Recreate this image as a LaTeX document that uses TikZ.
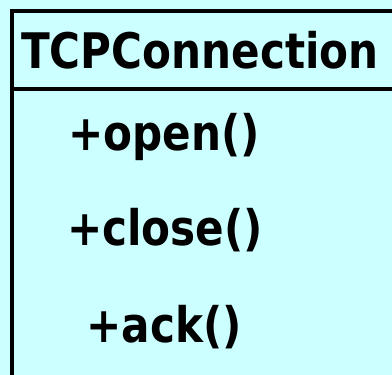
\documentclass[tikz,border=0pt]{standalone}
\usepackage{fontspec}
\newfontfamily\umlfont{DejaVu Sans}[FakeStretch=0.86]
\definecolor{classfill}{RGB}{204,255,255}

\begin{document}
\begin{tikzpicture}[
  x=1pt, y=-1pt,
  title/.style={font=\umlfont\bfseries\fontsize{49}{50}\selectfont, anchor=base, inner sep=0pt},
  method/.style={font=\umlfont\bfseries\fontsize{49}{50}\selectfont, anchor=base, inner sep=0pt},
  frame/.style={line width=3.5pt, draw=black}
]

\useasboundingbox (0,0) rectangle (392,375);
\fill[classfill] (0,0) rectangle (392,375);

% class box, cut off at the right and bottom
\draw[frame] (12,375) -- (12,11) -- (392,11);
\draw[frame] (12,89) -- (392,89);

\node[title] (name) at (200,68) {TCPConnection};

\node[method] (open) at (164,150) {+open()};
\node[method] (close) at (165,245) {+close()};
\node[method] (ack) at (164,342) {+ack()};

\end{tikzpicture}
\end{document}
